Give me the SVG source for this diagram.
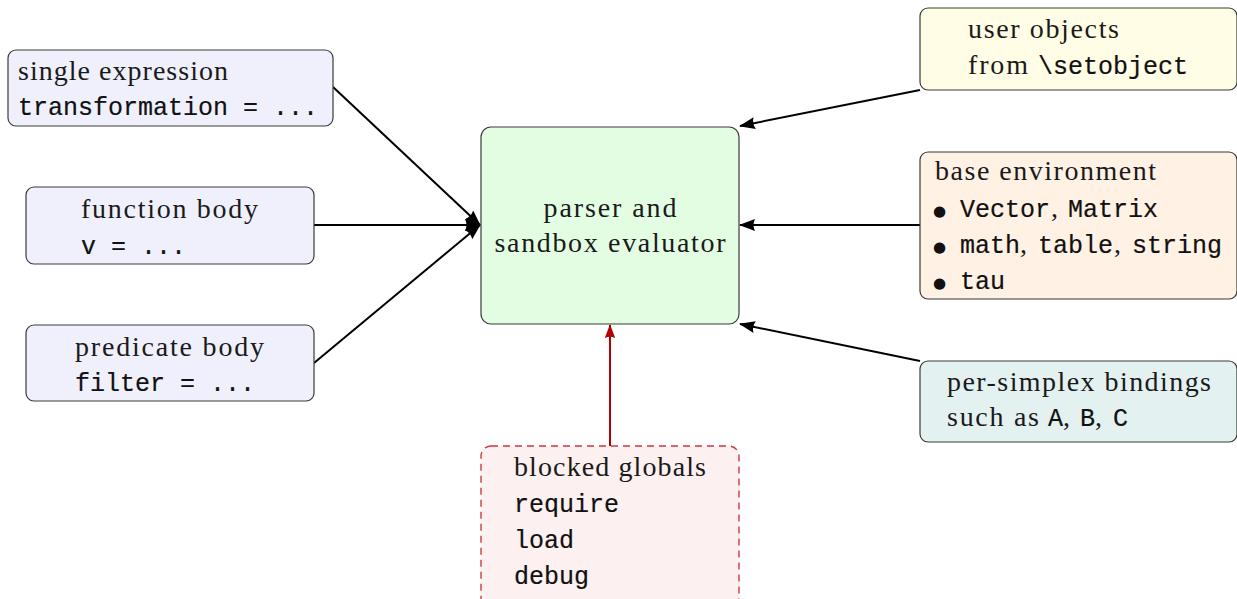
<svg xmlns="http://www.w3.org/2000/svg" width="1237" height="599" viewBox="0 0 1237 599">
  <style>
    .box { stroke: #3a3a3a; stroke-width: 1.2; }
    .src { fill: #f0f0fd; }
    .core { fill: #e3fde3; }
    .usr { fill: #fffde5; }
    .env { fill: #fff1e4; }
    .bind { fill: #e4f1f1; }
    .blk { fill: #fdf0f0; stroke: #cc3a3e; stroke-width: 1.4; stroke-dasharray: 7 5; }
    .rm { font-family: "Liberation Serif", "Times New Roman", serif; font-size: 28px; fill: #1a1a1a; }
    .tt { font-family: "Liberation Mono", "Courier New", monospace; font-size: 25px; fill: #111; stroke: #111; stroke-width: 0.2; }
    .dot { font-family: "DejaVu Sans", sans-serif; font-size: 15px; fill: #111; }
    .edge { stroke: #000; stroke-width: 2; fill: none; }
    .edge-red { stroke: #b40000; stroke-width: 2; fill: none; }
  </style>
  <defs>
    <marker id="tip" viewBox="0 0 16 12" refX="15" refY="6" markerWidth="16" markerHeight="12" markerUnits="userSpaceOnUse" orient="auto">
      <path d="M0,0 L16,6 L0,12 Q3,6 0,0 z" fill="#000"/>
    </marker>
    <marker id="tip-red" viewBox="0 0 16 12" refX="15" refY="6" markerWidth="14" markerHeight="11" markerUnits="userSpaceOnUse" orient="auto">
      <path d="M0,0 L16,6 L0,12 Q3,6 0,0 z" fill="#b40000"/>
    </marker>
  </defs>

  <!-- connectors -->
  <g id="connectors">
    <line class="edge" x1="333" y1="87" x2="480" y2="225" marker-end="url(#tip)"/>
    <line class="edge" x1="314" y1="225" x2="480" y2="225" marker-end="url(#tip)"/>
    <line class="edge" x1="314" y1="363" x2="480" y2="225" marker-end="url(#tip)"/>
    <line class="edge" x1="920" y1="90" x2="740" y2="126" marker-end="url(#tip)"/>
    <line class="edge" x1="920" y1="225" x2="740" y2="225" marker-end="url(#tip)"/>
    <line class="edge" x1="920" y1="361" x2="740" y2="324" marker-end="url(#tip)"/>
    <line class="edge-red" x1="610" y1="446" x2="610" y2="325" marker-end="url(#tip-red)"/>
  </g>

  <!-- input: single expression -->
  <g id="single-expression">
    <rect class="box src" x="8" y="50" width="325" height="76" rx="8"/>
    <text class="rm" x="18" y="80" textLength="210" lengthAdjust="spacing">single expression</text>
    <text class="tt" x="18" y="115">transformation = ...</text>
  </g>

  <!-- input: function body -->
  <g id="function-body">
    <rect class="box src" x="26" y="187" width="288" height="77" rx="8"/>
    <text class="rm" x="81" y="218" textLength="177" lengthAdjust="spacing">function body</text>
    <text class="tt" x="81" y="254">v = ...</text>
  </g>

  <!-- input: predicate body -->
  <g id="predicate-body">
    <rect class="box src" x="26" y="325" width="288" height="76" rx="8"/>
    <text class="rm" x="75" y="356" textLength="189" lengthAdjust="spacing">predicate body</text>
    <text class="tt" x="75" y="391">filter = ...</text>
  </g>

  <!-- core: evaluator -->
  <g id="evaluator">
    <rect class="box core" x="481" y="127" width="258" height="197" rx="10"/>
    <text class="rm" x="610" y="217" text-anchor="middle" textLength="133" lengthAdjust="spacing">parser and</text>
    <text class="rm" x="610" y="252" text-anchor="middle" textLength="231" lengthAdjust="spacing">sandbox evaluator</text>
  </g>

  <!-- right: user objects -->
  <g id="user-objects">
    <rect class="box usr" x="920" y="8" width="317" height="82" rx="8"/>
    <text class="rm" x="968" y="38" textLength="151" lengthAdjust="spacing">user objects</text>
    <text class="rm" x="968" y="74" textLength="60" lengthAdjust="spacing">from</text>
    <text class="tt" x="1038" y="74">\setobject</text>
  </g>

  <!-- right: base environment -->
  <g id="base-environment">
    <rect class="box env" x="920" y="152" width="317" height="147" rx="8"/>
    <text class="rm" x="935" y="180" textLength="221" lengthAdjust="spacing">base environment</text>
    <text class="dot" x="933" y="216">●</text>
    <text class="tt" x="960" y="217">Vector</text>
    <text class="rm" x="1051" y="217">,</text>
    <text class="tt" x="1068" y="217">Matrix</text>
    <text class="dot" x="933" y="252">●</text>
    <text class="tt" x="960" y="253">math</text>
    <text class="rm" x="1020" y="253">,</text>
    <text class="tt" x="1038" y="253">table</text>
    <text class="rm" x="1114" y="253">,</text>
    <text class="tt" x="1132" y="253">string</text>
    <text class="dot" x="933" y="288">●</text>
    <text class="tt" x="960" y="289">tau</text>
  </g>

  <!-- right: per-simplex bindings -->
  <g id="bindings">
    <rect class="box bind" x="920" y="361" width="317" height="81" rx="8"/>
    <text class="rm" x="947" y="391" textLength="264" lengthAdjust="spacing">per-simplex bindings</text>
    <text class="rm" x="947" y="426" textLength="92" lengthAdjust="spacing">such as</text>
    <text class="tt" x="1048" y="426">A</text>
    <text class="rm" x="1063" y="426">,</text>
    <text class="tt" x="1080" y="426">B</text>
    <text class="rm" x="1095" y="426">,</text>
    <text class="tt" x="1113" y="426">C</text>
  </g>

  <!-- bottom: blocked globals -->
  <g id="blocked-globals">
    <rect class="blk" x="481" y="446" width="258" height="162" rx="10"/>
    <text class="rm" x="514" y="476" textLength="192" lengthAdjust="spacing">blocked globals</text>
    <text class="tt" x="514" y="512">require</text>
    <text class="tt" x="514" y="548">load</text>
    <text class="tt" x="514" y="584">debug</text>
  </g>
</svg>
